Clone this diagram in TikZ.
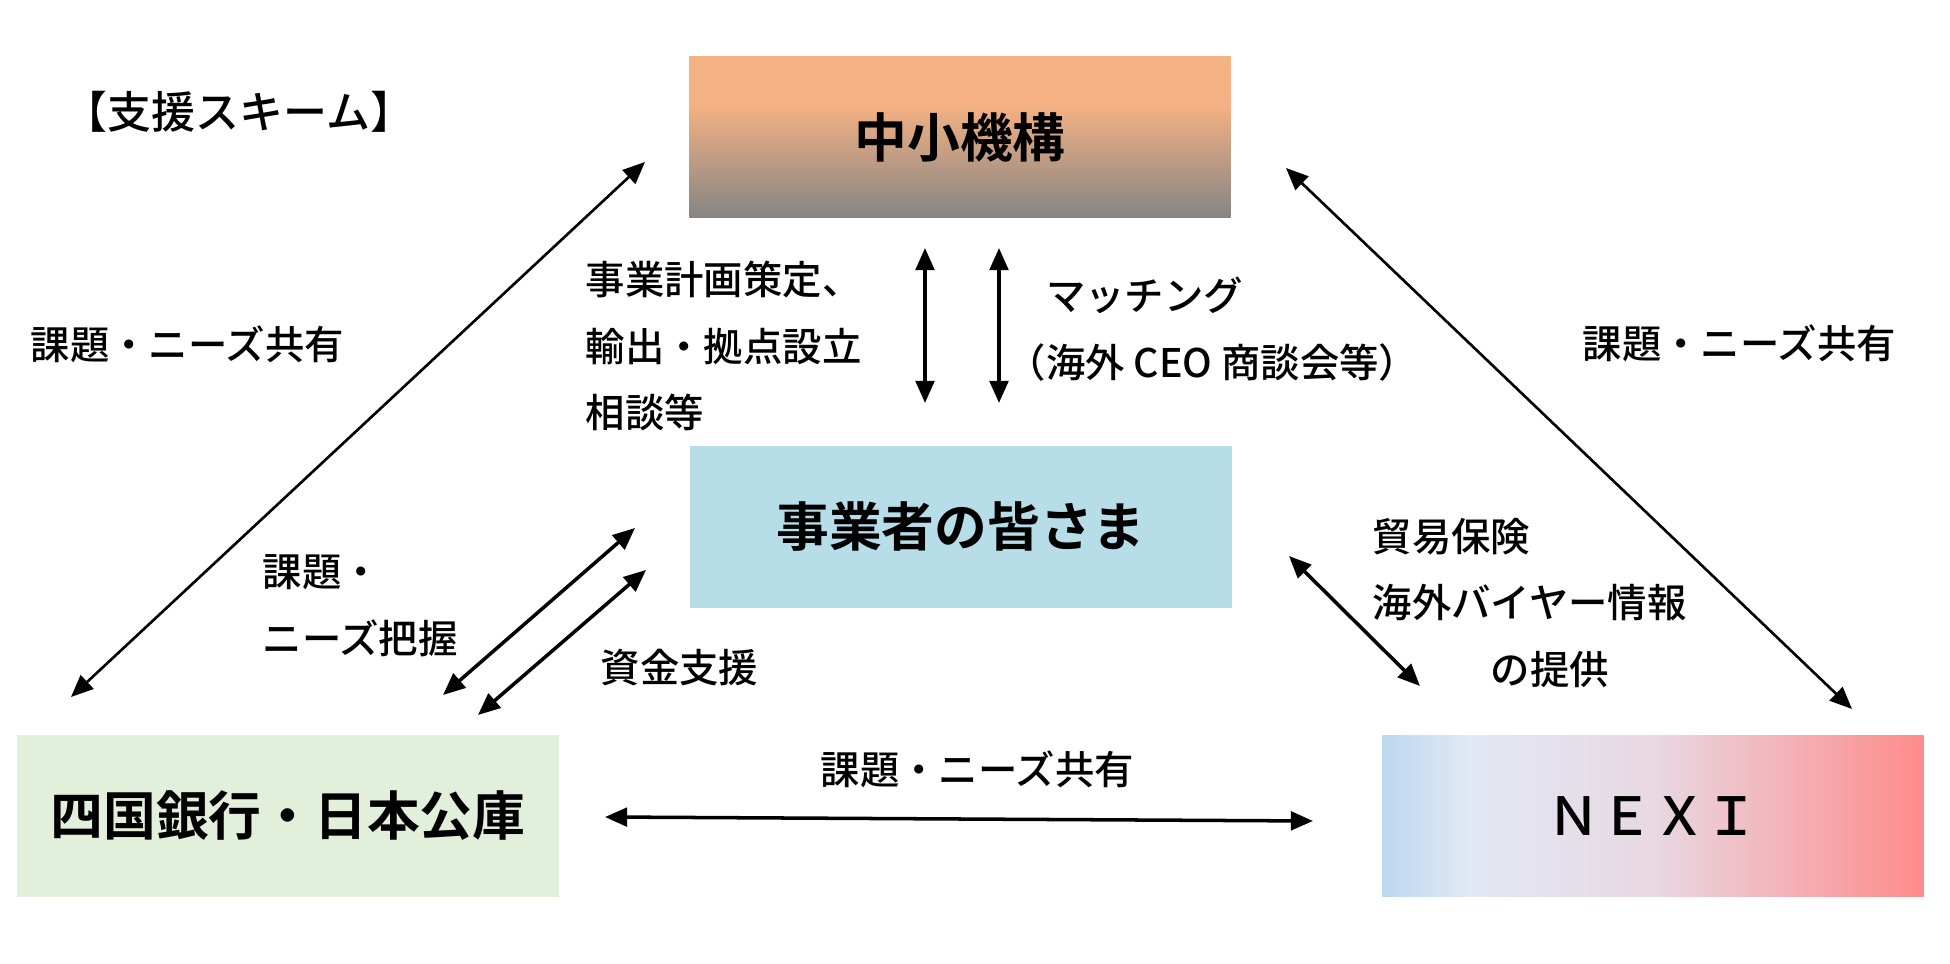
\documentclass[tikz,border=0pt]{standalone}
\usepackage{fontspec}
\setmainfont{Noto Sans CJK JP}[UprightFont={* Medium},BoldFont={* Bold}]
\usetikzlibrary{arrows.meta}

\definecolor{kikoorange}{HTML}{F4B183}
\definecolor{kikogray}{HTML}{858585}
\definecolor{jigyoblue}{HTML}{B7DDE8}
\definecolor{bankgreen}{HTML}{E2EFDA}
\definecolor{nexiblue}{HTML}{BDD7EE}
\definecolor{nexipale}{HTML}{E2E8F4}
\definecolor{nexipink}{HTML}{E8D8E2}
\definecolor{nexired}{HTML}{FF8B8B}

\pgfdeclareverticalshading{kikoshade}{100bp}{color(0bp)=(kikogray); color(25bp)=(kikogray); color(60bp)=(kikoorange); color(100bp)=(kikoorange)}
\pgfdeclarehorizontalshading{nexishade}{100bp}{color(0bp)=(nexiblue); color(25bp)=(nexiblue); color(33bp)=(nexipale); color(50bp)=(nexipink); color(75bp)=(nexired); color(100bp)=(nexired)}

\tikzset{
	box/.style={minimum width=5.41cm, minimum height=1.61cm, inner sep=0pt, font=\fontsize{15}{18}\selectfont\bfseries},
	lbl/.style={anchor=west, inner sep=0pt, align=left, font=\fontsize{11.2}{19}\selectfont},
	dblarrow/.style={{Triangle[length=6.3pt,width=5.3pt]}-{Triangle[length=6.3pt,width=5.3pt]}, line width=1pt},
}

\begin{document}
\begin{tikzpicture}[x=0.01cm,y=-0.01cm]
	
	\useasboundingbox (0,0) rectangle (1950,964);
	
	% boxes
	\node[box, shade, shading=kikoshade] (kiko) at (960,137) {中小機構};
	\node[box, fill=jigyoblue] (jigyo) at (961,527) {事業者の皆さま};
	\node[box, fill=bankgreen] (bank) at (288,816) {四国銀行・日本公庫};
	\node[box, shade, shading=nexishade, font=\fontsize{15}{18}\selectfont] (nexi) at (1653,816) {ＮＥＸＩ};
	
	% labels
	\node[lbl, font=\fontsize{12.5}{15}\selectfont] (title) at (63,112) {【支援スキーム】};
	\node[lbl] (shareL) at (30,344) {課題・ニーズ共有};
	\node[lbl] (shareR) at (1582,343) {課題・ニーズ共有};
	\node[lbl] (shareB) at (820,769) {課題・ニーズ共有};
	\node[lbl] (consult) at (585,346) {事業計画策定、\\輸出・拠点設立\\相談等};
	\node[lbl] (matching) at (1006,329) {　マッチング\\（海外 CEO 商談会等）};
	\node[lbl] (needs) at (262,606) {課題・\\ニーズ把握};
	\node[lbl] (fund) at (600,668) {資金支援};
	\node[lbl] (nexiinfo) at (1372,603) {貿易保険\\海外バイヤー情報\\　　　の提供};
	
	% arrow ends
	\coordinate (bankTop) at (71,697);
	\coordinate (kikoLeft) at (645,162);
	\coordinate (kikoRight) at (1286,168);
	\coordinate (nexiTop) at (1852,709);
	\coordinate (bankA) at (443,695);
	\coordinate (jigyoA) at (635,528);
	\coordinate (bankB) at (478,715);
	\coordinate (jigyoB) at (646,570);
	\coordinate (jigyoR) at (1289,556);
	\coordinate (nexiL) at (1420,686);
	\coordinate (bankR) at (605,817);
	\coordinate (nexiW) at (1313,821);
	
	% long arrows
	\draw[dblarrow, line width=0.75pt] (bankTop) -- (kikoLeft);
	\draw[dblarrow, line width=0.75pt] (kikoRight) -- (nexiTop);
	
	% vertical arrows
	\foreach \n/\x in {mA/925, mB/999} {
		\coordinate (\n t) at (\x,248);
		\coordinate (\n b) at (\x,403);
		\draw[dblarrow] (\n t) -- (\n b);
	}
	
	% short arrows
	\draw[dblarrow] (bankA) -- (jigyoA);
	\draw[dblarrow] (bankB) -- (jigyoB);
	\draw[dblarrow] (jigyoR) -- (nexiL);
	\draw[dblarrow] (bankR) -- (nexiW);
	
\end{tikzpicture}
\end{document}
